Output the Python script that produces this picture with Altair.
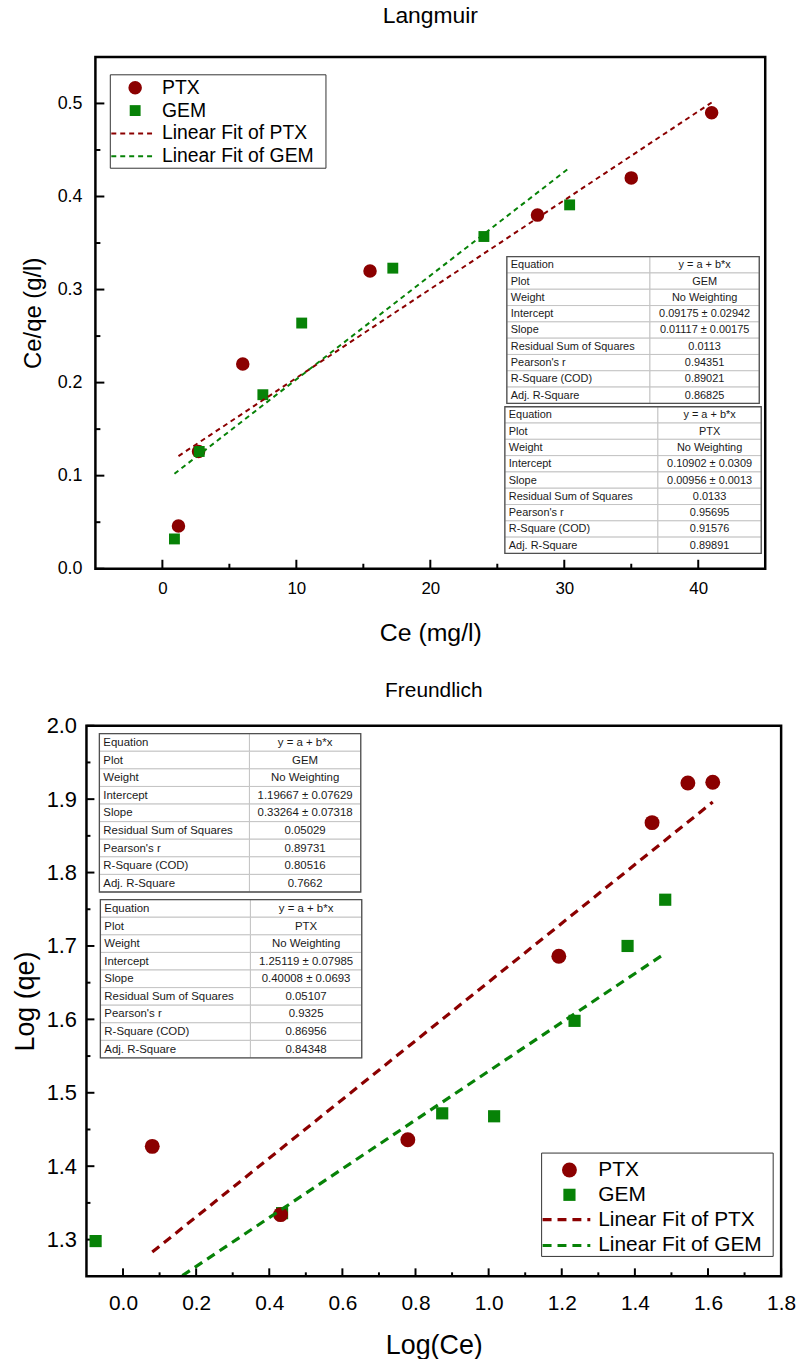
import altair as alt
import pandas as pd

FONT = "Liberation Sans"
PTX_COLOR = "#8B0000"
GEM_COLOR = "#078207"

# ---------------- Langmuir data ----------------
lang_ptx_x = [1.2, 2.7, 6.0, 15.5, 28.0, 35.0, 41.0]
lang_ptx_y = [0.046, 0.126, 0.220, 0.320, 0.380, 0.420, 0.490]
lang_gem_x = [0.9, 2.75, 7.5, 10.4, 17.2, 24.0, 30.4]
lang_gem_y = [0.032, 0.126, 0.187, 0.264, 0.323, 0.357, 0.391]
lang_fit_ptx_x = [1.2, 41.0]
lang_fit_ptx_y = [0.121, 0.501]
lang_fit_gem_x = [0.9, 30.4]
lang_fit_gem_y = [0.102, 0.431]

lang_x_major = [0, 10, 20, 30, 40]
lang_x_minor = [5, 15, 25, 35]
lang_y_major = [0.0, 0.1, 0.2, 0.3, 0.4, 0.5]
lang_y_minor = [0.05, 0.15, 0.25, 0.35, 0.45]

# ---------------- Freundlich data ----------------
fr_ptx_x = [0.08, 0.431, 0.779, 1.192, 1.447, 1.545, 1.613]
fr_ptx_y = [1.427, 1.334, 1.436, 1.686, 1.868, 1.922, 1.923]
fr_gem_x = [-0.075, 0.435, 0.873, 1.015, 1.235, 1.38, 1.483]
fr_gem_y = [1.298, 1.336, 1.472, 1.468, 1.598, 1.700, 1.763]
fr_fit_ptx_x = [0.08, 1.613]
fr_fit_ptx_y = [1.283, 1.896]
fr_fit_gem_x = [-0.075, 1.483]
fr_fit_gem_y = [1.172, 1.690]

fr_x_major = [0.0, 0.2, 0.4, 0.6, 0.8, 1.0, 1.2, 1.4, 1.6, 1.8]
fr_x_minor = [0.1, 0.3, 0.5, 0.7, 0.9, 1.1, 1.3, 1.5, 1.7]
fr_y_major = [1.3, 1.4, 1.5, 1.6, 1.7, 1.8, 1.9, 2.0]
fr_y_minor = [1.35, 1.45, 1.55, 1.65, 1.75, 1.85, 1.95]

# ---------------- fit tables ----------------
table_labels = ["Equation", "Plot", "Weight", "Intercept", "Slope",
                "Residual Sum of Squares", "Pearson's r", "R-Square (COD)",
                "Adj. R-Square"]
lang_gem_vals = ["y = a + b*x", "GEM", "No Weighting", "0.09175 ± 0.02942",
                 "0.01117 ± 0.00175", "0.0113", "0.94351", "0.89021", "0.86825"]
lang_ptx_vals = ["y = a + b*x", "PTX", "No Weighting", "0.10902 ± 0.0309",
                 "0.00956 ± 0.0013", "0.0133", "0.95695", "0.91576", "0.89891"]
fr_gem_vals = ["y = a + b*x", "GEM", "No Weighting", "1.19667 ± 0.07629",
               "0.33264 ± 0.07318", "0.05029", "0.89731", "0.80516", "0.7662"]
fr_ptx_vals = ["y = a + b*x", "PTX", "No Weighting", "1.25119 ± 0.07985",
               "0.40008 ± 0.0693", "0.05107", "0.9325", "0.86956", "0.84348"]

legend_labels = ["PTX", "GEM", "Linear Fit of PTX", "Linear Fit of GEM"]


def one():
    return pd.DataFrame({"k": [0]})


def build_table(vals, left, split, right, top, rh, fs):
    cells, texts = [], []
    for i, (lab, val) in enumerate(zip(table_labels, vals)):
        y1 = top + i * rh
        cells.append({"x1": left, "x2": split, "y1": y1, "y2": y1 + rh})
        cells.append({"x1": split, "x2": right, "y1": y1, "y2": y1 + rh})
        texts.append({"px": left + 4, "py": y1 + rh / 2 + 0.5, "t": lab, "a": "left"})
        texts.append({"px": (split + right) / 2, "py": y1 + rh / 2 + 0.5, "t": val, "a": "center"})
    cdf = pd.DataFrame(cells)
    tdf = pd.DataFrame(texts)
    c = alt.Chart(cdf).mark_rect(fill="white", stroke="#c4c4c4", strokeWidth=1).encode(
        x=alt.X("x1:Q", scale=None), x2="x2:Q",
        y=alt.Y("y1:Q", scale=None), y2="y2:Q")
    o = alt.Chart(one()).mark_rect(fill=None, stroke="#505050", strokeWidth=1.3).encode(
        x=alt.value(left), x2=alt.value(right),
        y=alt.value(top), y2=alt.value(top + rh * len(vals)))
    tl = alt.Chart(tdf[tdf.a == "left"]).mark_text(
        align="left", baseline="middle", font=FONT, fontSize=fs, color="#1a1a1a").encode(
        x=alt.X("px:Q", scale=None), y=alt.Y("py:Q", scale=None), text="t:N")
    tc = alt.Chart(tdf[tdf.a == "center"]).mark_text(
        align="center", baseline="middle", font=FONT, fontSize=fs, color="#1a1a1a").encode(
        x=alt.X("px:Q", scale=None), y=alt.Y("py:Q", scale=None), text="t:N")
    return [c, o, tl, tc]


def build_legend(box, rows_y, marker_x, line_x, text_x, fs, msize, ssize, dash, lw):
    x1, x2, y1, y2 = box
    bg = alt.Chart(one()).mark_rect(fill="white", stroke="#333333", strokeWidth=1).encode(
        x=alt.value(x1), x2=alt.value(x2), y=alt.value(y1), y2=alt.value(y2))
    circ = alt.Chart(one()).mark_point(
        shape="circle", filled=True, size=msize, color=PTX_COLOR, opacity=1).encode(
        x=alt.value(marker_x), y=alt.value(rows_y[0]))
    sq = alt.Chart(one()).mark_point(
        shape="square", filled=True, size=ssize, color=GEM_COLOR, opacity=1).encode(
        x=alt.value(marker_x), y=alt.value(rows_y[1]))
    l1 = alt.Chart(one()).mark_rule(color=PTX_COLOR, strokeDash=dash, strokeWidth=lw).encode(
        x=alt.value(line_x[0]), x2=alt.value(line_x[1]), y=alt.value(rows_y[2]))
    l2 = alt.Chart(one()).mark_rule(color=GEM_COLOR, strokeDash=dash, strokeWidth=lw).encode(
        x=alt.value(line_x[0]), x2=alt.value(line_x[1]), y=alt.value(rows_y[3]))
    tdf = pd.DataFrame({"t": legend_labels, "py": rows_y, "px": [text_x] * 4})
    txt = alt.Chart(tdf).mark_text(
        align="left", baseline="middle", font=FONT, fontSize=fs, color="black").encode(
        x=alt.X("px:Q", scale=None), y=alt.Y("py:Q", scale=None), text="t:N")
    return [bg, circ, sq, l1, l2, txt]


def panel(title, title_fs, title_off, dx, W, H, xdom, ydom, xvals, yvals, xfmt, yfmt,
          xtitle, ytitle, xlab_fs, ylab_fs, xtitle_fs, ytitle_fs,
          xlabpad, ylabpad, xtitlepad, ytitlepad,
          ptx_x, ptx_y, gem_x, gem_y, fptx_x, fptx_y, fgem_x, fgem_y,
          xmaj, xmin, ymaj, ymin, tmaj, tmin,
          csize, ssize, dash, lw, tables, legend, gem_first):
    X = alt.X("x:Q", scale=alt.Scale(domain=xdom, nice=False, zero=False, range=[dx, dx + W]),
              axis=alt.Axis(values=xvals, format=xfmt, ticks=False, domain=False, grid=False,
                            labelFont=FONT, labelFontSize=xlab_fs, labelColor="black",
                            labelPadding=xlabpad, title=xtitle, titleFont=FONT,
                            titleFontSize=xtitle_fs, titleFontWeight="normal",
                            titleColor="black", titlePadding=xtitlepad,
                            titleX=dx + W / 2, titleAnchor="middle", titleAlign="center",
                            labelFlush=False, labelOverlap=False))
    Y = alt.Y("y:Q", scale=alt.Scale(domain=ydom, nice=False, zero=False),
              axis=alt.Axis(values=yvals, format=yfmt, ticks=False, domain=False, grid=False,
                            labelFont=FONT, labelFontSize=ylab_fs, labelColor="black",
                            labelPadding=ylabpad, title=ytitle, titleFont=FONT,
                            titleFontSize=ytitle_fs, titleFontWeight="normal",
                            titleColor="black", titlePadding=ytitlepad,
                            labelFlush=False, labelOverlap=False))

    ptx = alt.Chart(pd.DataFrame({"x": ptx_x, "y": ptx_y})).mark_point(
        shape="circle", filled=True, size=csize, color=PTX_COLOR, opacity=1).encode(x=X, y=Y)
    gem = alt.Chart(pd.DataFrame({"x": gem_x, "y": gem_y})).mark_point(
        shape="square", filled=True, size=ssize, color=GEM_COLOR, opacity=1).encode(x=X, y=Y)
    fptx = alt.Chart(pd.DataFrame({"x": fptx_x, "y": fptx_y})).mark_line(
        color=PTX_COLOR, strokeDash=dash, strokeWidth=lw, clip=True).encode(x=X, y=Y)
    fgem = alt.Chart(pd.DataFrame({"x": fgem_x, "y": fgem_y})).mark_line(
        color=GEM_COLOR, strokeDash=dash, strokeWidth=lw, clip=True).encode(x=X, y=Y)

    ymaj_r = alt.Chart(pd.DataFrame({"y": ymaj})).mark_rule(color="black", strokeWidth=2).encode(
        y=Y, x=alt.value(dx), x2=alt.value(dx + tmaj))
    ymin_r = alt.Chart(pd.DataFrame({"y": ymin})).mark_rule(color="black", strokeWidth=2).encode(
        y=Y, x=alt.value(dx), x2=alt.value(dx + tmin))
    xmaj_r = alt.Chart(pd.DataFrame({"x": xmaj})).mark_rule(color="black", strokeWidth=2).encode(
        x=X, y=alt.value(H), y2=alt.value(H - tmaj))
    xmin_r = alt.Chart(pd.DataFrame({"x": xmin})).mark_rule(color="black", strokeWidth=2).encode(
        x=X, y=alt.value(H), y2=alt.value(H - tmin))
    frame = alt.Chart(one()).mark_rect(fill=None, stroke="black", strokeWidth=2.5).encode(
        x=alt.value(dx), x2=alt.value(dx + W), y=alt.value(0), y2=alt.value(H))

    pts = [gem, ptx] if gem_first else [ptx, gem]
    layers = [ymaj_r, ymin_r, xmaj_r, xmin_r] + tables + pts + [fptx, fgem] + legend + [frame]
    return alt.layer(*layers).properties(
        width=dx + W, height=H,
        title=alt.TitleParams(title, font=FONT, fontSize=title_fs, fontWeight="normal",
                              color="black", anchor="middle", offset=title_off,
                              dx=dx / 2))


# ---------------- top panel (group origin 9 px left of frame) ----------------
DX = 9
top_tables = (build_table(lang_gem_vals, DX + 414, DX + 558, DX + 668, 201, 16.4, 11) +
              build_table(lang_ptx_vals, DX + 412, DX + 566, DX + 670, 352, 16.4, 11))
top_legend = build_legend((DX + 15, DX + 232, 18, 112), [31, 54, 77, 100], DX + 40,
                          (DX + 16, DX + 61), DX + 67, 19.5, 185, 120, [5, 4], 2)
top = panel("Langmuir", 23, 28, DX, 674, 515, [-5, 45], [0, 0.55],
            lang_x_major, lang_y_major, "d", ".1f", "Ce (mg/l)", "Ce/qe (g/l)",
            17, 18, 25, 24,
            12, 4.5, 24, 11.5,
            lang_ptx_x, lang_ptx_y, lang_gem_x, lang_gem_y,
            lang_fit_ptx_x, lang_fit_ptx_y, lang_fit_gem_x, lang_fit_gem_y,
            lang_x_major, lang_x_minor, lang_y_major, lang_y_minor, 9, 5,
            185, 120, [5, 4], 2, top_tables, top_legend, False)

# ---------------- bottom panel ----------------
bot_tables = (build_table(fr_gem_vals, 13, 164, 276, 8, 17.7, 11.5) +
              build_table(fr_ptx_vals, 14, 165, 277, 175, 17.7, 11.5))
bot_legend = build_legend((458, 691, 430, 534), [447, 472, 497, 523], 486, (459, 507), 515,
                          21, 225, 150, [9, 6], 3.2)
bot = panel("Freundlich", 21, 14, 0, 699, 554, [-0.1, 1.8], [1.25, 2.0],
            fr_x_major, fr_y_major, ".1f", ".1f", "Log(Ce)", "Log (qe)",
            21, 22, 27, 27,
            16, 10, 20, 7,
            fr_ptx_x, fr_ptx_y, fr_gem_x, fr_gem_y,
            fr_fit_ptx_x, fr_fit_ptx_y, fr_fit_gem_x, fr_fit_gem_y,
            fr_x_major, fr_x_minor, fr_y_major, fr_y_minor, 8, 4,
            225, 150, [9, 6], 3.2, bot_tables, bot_legend, True)

chart = alt.concat(top, bot, columns=1, spacing=35).properties(
    padding={"left": 11, "top": 0, "right": 5, "bottom": 5},
    background="white"
).configure_view(stroke=None)

chart.save("out.html", embed_options={"renderer": "svg", "actions": False})
